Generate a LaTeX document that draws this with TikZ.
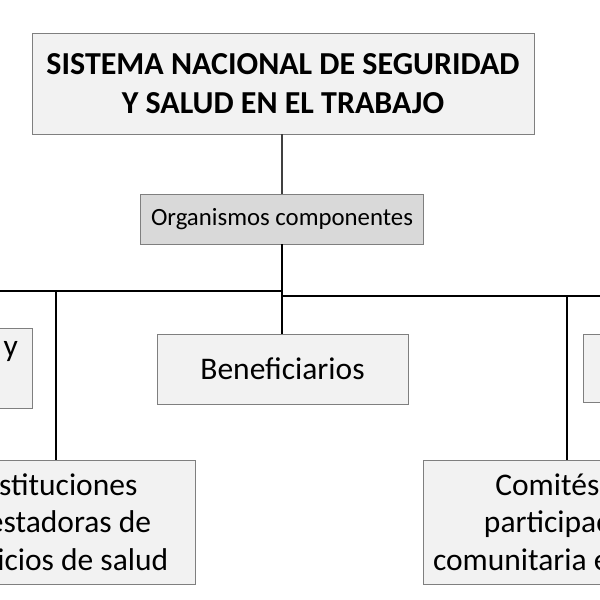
\documentclass[tikz,border=0pt]{standalone}
\usepackage{fontspec}
\setmainfont{Carlito}
\usetikzlibrary{positioning}

\definecolor{fondo}{HTML}{F2F2F2}
\definecolor{fondoorg}{HTML}{D9D9D9}
\definecolor{borde}{HTML}{7F7F7F}

\begin{document}
\begin{tikzpicture}[x=1bp,y=-1bp,
  caja/.style={draw=borde,line width=0.8bp,fill=fondo,align=center,inner sep=2bp,
    font=\fontsize{31.5bp}{37.5bp}\selectfont},
  linea/.style={line width=1.6bp}]
\useasboundingbox (0,0) rectangle (600,600);
\clip (0,0) rectangle (600,600);

\node[caja,minimum width=502bp,minimum height=101bp,
  font=\fontsize{32bp}{39bp}\selectfont\bfseries] (sistema) at (283,83.5)
  {SISTEMA NACIONAL DE SEGURIDAD\\Y SALUD EN EL TRABAJO};
\node[caja,fill=fondoorg,minimum width=283bp,minimum height=50bp,
  font=\fontsize{24.8bp}{29bp}\selectfont] (org) at (282,219) {Organismos componentes};

\node[caja,minimum width=250bp,minimum height=80bp,text width=222bp,align=right] (trab) at (-93,368) {y\\\mbox{}};
\node[caja,minimum width=251bp,minimum height=70bp] (benef) at (282.5,369) {Beneficiarios};
\node[caja,minimum width=250bp,minimum height=68bp] (otro) at (708,368) {};
\node[caja,minimum width=278bp,minimum height=124bp] (inst) at (56,522)
  {Instituciones\\prestadoras de\\servicios de salud};
\node[caja,minimum width=288bp,minimum height=124bp] (comite) at (567,522)
  {Comités de\\participación\\comunitaria en salud};

\coordinate (busl) at (282,291);
\coordinate (busr) at (282,296);

\draw[line width=1.1bp,black!75] (org.north |- sistema.south) -- (org.north);
\draw[linea] (org.south) -- (org.south |- benef.north);
\draw[linea] (trab.north) |- (busl);
\draw[linea] (inst.north) -- (inst.north |- busl);
\draw[linea] (busr) -| (comite.north);
\draw[linea] (busr) -| (otro.north);
\end{tikzpicture}
\end{document}
